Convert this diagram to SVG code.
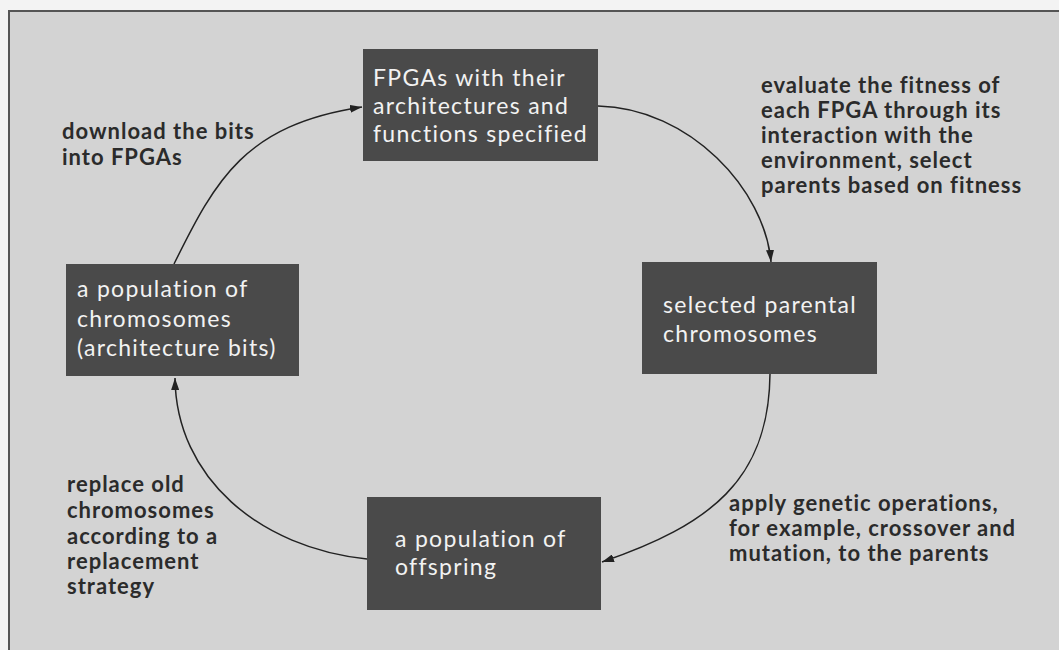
<svg xmlns="http://www.w3.org/2000/svg" width="1059" height="650" viewBox="0 0 1059 650">
<defs>
<style>
.box{fill:#4a4a4a;}
.bt{font-family:Lato,"Open Sans","Liberation Sans",sans-serif;font-size:23px;letter-spacing:1.3px;fill:#f2f2f2;}
.lb{font-family:Lato,"Open Sans","Liberation Sans",sans-serif;font-size:22px;font-weight:bold;letter-spacing:1px;fill:#2b2b2b;}
.edge{fill:none;stroke:#222;stroke-width:1.5;marker-end:url(#arr);}
</style>
<marker id="arr" viewBox="0 0 12 8" refX="12" refY="4" markerWidth="12" markerHeight="8" markerUnits="userSpaceOnUse" orient="auto">
<path d="M0,0 L12,4 L0,8 Z" fill="#222"/>
</marker>
</defs>
<rect x="0" y="0" width="1059" height="650" fill="#f3f3f3"/>
<rect x="9" y="11" width="1060" height="650" fill="#d3d3d3" stroke="#555" stroke-width="2"/>
<g id="connectors">
<path class="edge" d="M174,264 C216,179 245,125 362,107"/>
<path class="edge" d="M598,106 C690,108 765,190 771,262"/>
<path class="edge" d="M770,374 C769,480 710,525 602,562"/>
<path class="edge" d="M367,559 C260,548 176,478 175,378"/>
</g>
<g id="node-fpgas">
<rect class="box" x="363" y="49" width="235" height="112"/>
<text class="bt" x="373" y="86">FPGAs with their</text>
<text class="bt" x="373" y="114">architectures and</text>
<text class="bt" x="373" y="142">functions specified</text>
</g>
<g id="node-selected">
<rect class="box" x="642" y="262" width="235" height="112"/>
<text class="bt" x="663" y="313">selected parental</text>
<text class="bt" x="663" y="342">chromosomes</text>
</g>
<g id="node-offspring">
<rect class="box" x="367" y="497" width="234" height="113"/>
<text class="bt" x="395" y="547">a population of</text>
<text class="bt" x="395" y="575">offspring</text>
</g>
<g id="node-population">
<rect class="box" x="66" y="264" width="233" height="112"/>
<text class="bt" x="77" y="297">a population of</text>
<text class="bt" x="77" y="327">chromosomes</text>
<text class="bt" x="77" y="356">(architecture bits)</text>
</g>
<g id="labels">
<text class="lb" x="62" y="139">download the bits</text>
<text class="lb" x="62" y="165">into FPGAs</text>
<text class="lb" x="761" y="93">evaluate the fitness of</text>
<text class="lb" x="761" y="118">each FPGA through its</text>
<text class="lb" x="761" y="143">interaction with the</text>
<text class="lb" x="761" y="168">environment, select</text>
<text class="lb" x="761" y="193">parents based on fitness</text>
<text class="lb" x="729" y="511">apply genetic operations,</text>
<text class="lb" x="729" y="536">for example, crossover and</text>
<text class="lb" x="729" y="561">mutation, to the parents</text>
<text class="lb" x="67" y="492">replace old</text>
<text class="lb" x="67" y="518">chromosomes</text>
<text class="lb" x="67" y="544">according to a</text>
<text class="lb" x="67" y="569">replacement</text>
<text class="lb" x="67" y="594">strategy</text>
</g>
</svg>
